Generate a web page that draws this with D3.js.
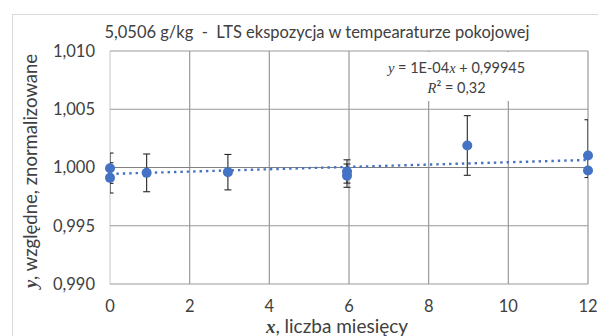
<!DOCTYPE html>
<html>
<head>
<meta charset="utf-8">
<script src="https://cdn.jsdelivr.net/npm/d3@7"></script>
<style>
  body { margin: 0; background: #fff; }
  text { font-family: Lato, "Open Sans", sans-serif; fill: #404040; }
</style>
</head>
<body>
<svg id="chart" width="598" height="336"></svg>
<script>
// months and normalised values
var months   = [0, 0, 0.92, 2.96, 5.95, 5.95, 8.97, 12, 12];
var values   = [0.99994, 0.99911, 0.99954, 0.99960, 0.99966, 0.99930, 1.00189, 1.00103, 0.99974];
var errPlus  = [0.0013, 0.0013, 0.00162, 0.00152, 0.0010, 0.0010, 0.00256, 0.00307, 0];
var errMinus = [0.0013, 0.0013, 0.00162, 0.00152, 0.0010, 0.0010, 0.00256, 0.00189, 0];

var xTicks = [0, 2, 4, 6, 8, 10, 12];
var yTicks = [0.990, 0.995, 1.000, 1.005, 1.010];

// trend line as given by the label
var slope = 1e-4, intercept = 0.99945, rSquared = 0.32;

var svg = d3.select('#chart');
var margin = { left: 110, right: 10, top: 51, bottom: 52 };
var width = 598 - margin.left - margin.right;
var height = 336 - margin.top - margin.bottom;

var fmt = function (v, d) { return v.toFixed(d).replace('.', ','); };
var serif = '"Liberation Serif", serif';

// outer chart border
svg.append('rect')
  .attr('x', 12.5).attr('y', 14.5)
  .attr('width', 600).attr('height', 340)
  .attr('fill', 'none').attr('stroke', '#d9d9d9');

svg.append('text')
  .attr('x', 317).attr('y', 38)
  .attr('text-anchor', 'middle')
  .attr('xml:space', 'preserve')
  .style('font-size', '16.5px')
  .text('5,0506 g/kg  -  LTS ekspozycja w tempearaturze pokojowej');

var g = svg.append('g').attr('transform', 'translate(' + margin.left + ',' + margin.top + ')');

var x = d3.scaleLinear().domain([0, 12]).range([0, width]);
var y = d3.scaleLinear().domain([0.990, 1.010]).range([height, 0]);

g.append('clipPath').attr('id', 'plotclip')
  .append('rect').attr('width', width).attr('height', height);

// grid
g.selectAll('.vgrid').data(xTicks).enter().append('line')
  .attr('class', 'vgrid')
  .attr('x1', function (d) { return x(d); }).attr('x2', function (d) { return x(d); })
  .attr('y1', 0).attr('y2', height)
  .attr('stroke', function (d) { return d === 0 ? '#d0d0d0' : '#999'; })
  .attr('stroke-width', 1.2);

g.selectAll('.hgrid').data(yTicks).enter().append('line')
  .attr('class', 'hgrid')
  .attr('x1', 0).attr('x2', width)
  .attr('y1', function (d) { return y(d); }).attr('y2', function (d) { return y(d); })
  .attr('stroke', function (d) { return d === 1.0 ? '#808080' : '#999'; })
  .attr('stroke-width', 1.2);

// tick labels
g.selectAll('.ylab').data(yTicks).enter().append('text')
  .attr('x', -15).attr('y', function (d) { return y(d); })
  .attr('dy', '0.35em')
  .attr('text-anchor', 'end')
  .style('font-size', '16.5px')
  .text(function (d) { return fmt(d, 3); });

g.selectAll('.xlab').data(xTicks).enter().append('text')
  .attr('x', function (d) { return x(d); }).attr('y', height + 22)
  .attr('dy', '0.35em')
  .attr('text-anchor', 'middle')
  .style('font-size', '16.5px')
  .text(function (d) { return d; });

// equation label box covers grid lines
g.append('rect')
  .attr('x', x(6.9)).attr('y', 1)
  .attr('width', x(11.5) - x(6.9)).attr('height', 49)
  .attr('fill', '#fff');

var eq = g.append('text')
  .attr('x', x(8.7)).attr('y', 22)
  .attr('text-anchor', 'middle')
  .style('font-size', '14.5px');
eq.append('tspan').style('font-family', serif).style('font-style', 'italic').text('y');
eq.append('tspan').text(' = 1E-04');
eq.append('tspan').style('font-family', serif).style('font-style', 'italic').text('x');
eq.append('tspan').text(' + ' + fmt(intercept, 5));

var r2 = g.append('text')
  .attr('x', x(8.7)).attr('y', 42)
  .attr('text-anchor', 'middle')
  .style('font-size', '14.5px');
r2.append('tspan').style('font-family', serif).style('font-style', 'italic').text('R');
r2.append('tspan').text('² = ' + fmt(rSquared, 2));

var plot = g.append('g').attr('clip-path', 'url(#plotclip)');

// trend line
plot.append('line')
  .attr('x1', x(0)).attr('x2', x(12))
  .attr('y1', y(intercept)).attr('y2', y(intercept + slope * 12))
  .attr('stroke', '#4472c4')
  .attr('stroke-width', 2.4)
  .attr('stroke-dasharray', '2.4,4');

// error bars
var pts = months.map(function (m, i) {
  return { x: m, y: values[i], hi: values[i] + errPlus[i], lo: values[i] - errMinus[i], e: errPlus[i] + errMinus[i] };
});
var bars = plot.selectAll('.err').data(pts.filter(function (d) { return d.e > 0; })).enter().append('g')
  .attr('stroke', '#262626').attr('stroke-width', 1.1);
bars.append('line')
  .attr('x1', function (d) { return x(d.x); }).attr('x2', function (d) { return x(d.x); })
  .attr('y1', function (d) { return y(d.hi); }).attr('y2', function (d) { return y(d.lo); });
bars.append('line')
  .attr('x1', function (d) { return x(d.x) - 3.5; }).attr('x2', function (d) { return x(d.x) + 3.5; })
  .attr('y1', function (d) { return y(d.hi); }).attr('y2', function (d) { return y(d.hi); });
bars.append('line')
  .attr('x1', function (d) { return x(d.x) - 3.5; }).attr('x2', function (d) { return x(d.x) + 3.5; })
  .attr('y1', function (d) { return y(d.lo); }).attr('y2', function (d) { return y(d.lo); });

// markers
g.selectAll('.pt').data(pts).enter().append('circle')
  .attr('cx', function (d) { return x(d.x); })
  .attr('cy', function (d) { return y(d.y); })
  .attr('r', 5)
  .attr('fill', '#4472c4');

// axis titles
var xt = svg.append('text')
  .attr('x', 337).attr('y', 333)
  .attr('text-anchor', 'middle')
  .style('font-size', '19px');
xt.append('tspan').style('font-family', serif).style('font-style', 'italic').style('font-weight', 'bold').text('x');
xt.append('tspan').text(', liczba miesięcy');

var yt = svg.append('text')
  .attr('transform', 'translate(37,171) rotate(-90)')
  .attr('text-anchor', 'middle')
  .style('font-size', '18.5px');
yt.append('tspan').style('font-family', serif).style('font-style', 'italic').style('font-weight', 'bold').text('y');
yt.append('tspan').text(', względne, znormalizowane');
</script>
</body>
</html>
